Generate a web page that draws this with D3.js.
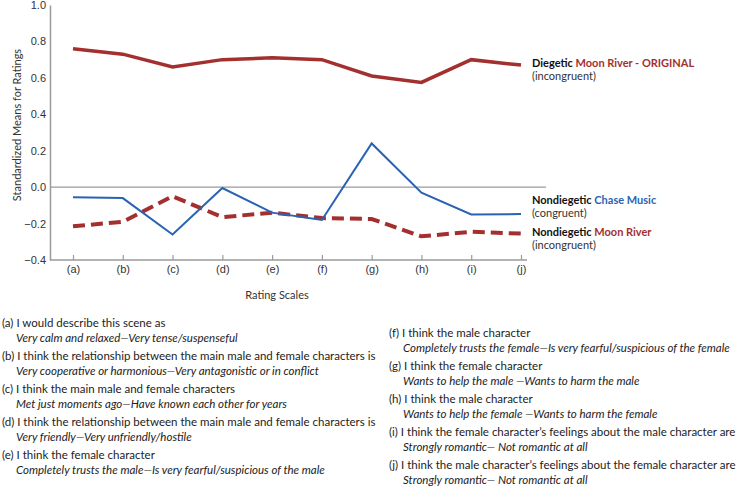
<!DOCTYPE html>
<html>
<head>
<meta charset="utf-8">
<script src="https://cdn.jsdelivr.net/npm/d3@7"></script>
<style>
  body { margin: 0; background: #fff; }
  svg { font-family: Lato, "Open Sans", sans-serif; }
  .axis text { fill: #333; font-size: 11px; }
</style>
</head>
<body>
<svg id="chart" width="744" height="500"></svg>
<script>
// rating scales (x categories)
var scales = ['(a)', '(b)', '(c)', '(d)', '(e)', '(f)', '(g)', '(h)', '(i)', '(j)']
var yTicks = [-0.4, -0.2, 0.0, 0.2, 0.4, 0.6, 0.8, 1.0]

// standardized means
var diegeticOriginal = [0.76, 0.73, 0.66, 0.70, 0.71, 0.70, 0.61, 0.575, 0.70, 0.67]
var nondiegeticChase = [-0.055, -0.06, -0.26, -0.005, -0.14, -0.18, 0.24, -0.03, -0.15, -0.148]
var nondiegeticMoon = [-0.215, -0.19, -0.05, -0.165, -0.14, -0.17, -0.175, -0.27, -0.245, -0.255]

// footnote texts for each scale
var questions = [
  'I would describe this scene as',
  'I think the relationship between the main male and female characters is',
  'I think the main male and female characters',
  'I think the relationship between the main male and female characters is',
  'I think the female character',
  'I think the male character',
  'I think the female character',
  'I think the male character',
  'I think the female character\u2019s feelings about the male character are',
  'I think the male character\u2019s feelings about the female character are'
]
var anchors = [
  'Very calm and relaxed\u2014Very tense/suspenseful',
  'Very cooperative or harmonious\u2014Very antagonistic or in conflict',
  'Met just moments ago\u2014Have known each other for years',
  'Very friendly\u2014Very unfriendly/hostile',
  'Completely trusts the male\u2014Is very fearful/suspicious of the male',
  'Completely trusts the female\u2014Is very fearful/suspicious of the female',
  'Wants to help the male \u2014Wants to harm the male',
  'Wants to help the female \u2014Wants to harm the female',
  'Strongly romantic\u2014 Not romantic at all',
  'Strongly romantic\u2014 Not romantic at all'
]

var red = '#a3302f'
var blue = '#2b63b3'
var grey = '#9a9a9a'

var svg = d3.select('#chart')

var axisLeftX = 50
var axisRightX = 527

var x = d3.scalePoint().domain(scales).range([73, 521])
var y = d3.scaleLinear().domain([-0.4, 1.0]).range([260, 5])

// zero reference line
svg.append('line')
  .attr('x1', axisLeftX).attr('x2', 546)
  .attr('y1', y(0)).attr('y2', y(0))
  .attr('stroke', grey).attr('stroke-width', 1.2)

// y axis
var yAxis = d3.axisLeft(y).tickValues(yTicks).tickSize(0).tickPadding(4)
  .tickFormat(d3.format('.1f'))
var gy = svg.append('g')
  .attr('class', 'axis y-axis')
  .attr('transform', 'translate(' + axisLeftX + ',0)')
  .call(yAxis)
gy.select('.domain').attr('stroke', grey).attr('stroke-width', 1.5)

// x axis (ticks pointing up)
var xAxis = d3.axisBottom(x).tickSizeInner(-5).tickSizeOuter(0).tickPadding(5)
var gx = svg.append('g')
  .attr('class', 'axis x-axis')
  .attr('transform', 'translate(0,' + y(-0.4) + ')')
  .call(xAxis)
gx.select('.domain').remove()
gx.selectAll('.tick line').attr('stroke', grey).attr('stroke-width', 1.2)
gx.append('line')
  .attr('x1', axisLeftX).attr('x2', axisRightX)
  .attr('stroke', grey).attr('stroke-width', 1.5)

// axis titles
svg.append('text')
  .attr('transform', 'translate(21,' + 125 + ') rotate(-90)')
  .attr('text-anchor', 'middle')
  .attr('fill', '#333')
  .style('font-size', '11px')
  .text('Standardized Means for Ratings')

svg.append('text')
  .attr('x', 277).attr('y', 299)
  .attr('text-anchor', 'middle')
  .attr('fill', '#333')
  .style('font-size', '11px')
  .text('Rating Scales')

// lines
var line = d3.line()
  .x(function(d, i) { return x(scales[i]) })
  .y(function(d) { return y(d) })

svg.append('path').datum(nondiegeticMoon)
  .attr('d', line).attr('fill', 'none')
  .attr('stroke', red).attr('stroke-width', 4)
  .attr('stroke-dasharray', '12,6')

svg.append('path').datum(nondiegeticChase)
  .attr('d', line).attr('fill', 'none')
  .attr('stroke', blue).attr('stroke-width', 2)

svg.append('path').datum(diegeticOriginal)
  .attr('d', line).attr('fill', 'none')
  .attr('stroke', red).attr('stroke-width', 3.5)

// labels beside the lines
function lineLabel(yPos, first, second, color, sub) {
  var t = svg.append('text')
    .attr('x', 532).attr('y', yPos)
    .style('font-size', '11px').style('font-weight', 'bold')
  t.append('tspan').attr('fill', '#111').text(first + ' ')
  t.append('tspan').attr('fill', color).text(second)
  svg.append('text')
    .attr('x', 532).attr('y', yPos + 13)
    .attr('fill', '#333')
    .style('font-size', '11px')
    .text(sub)
}
lineLabel(67, 'Diegetic', 'Moon River - ORIGINAL', red, '(incongruent)')
lineLabel(204, 'Nondiegetic', 'Chase Music', blue, '(congruent)')
lineLabel(236, 'Nondiegetic', 'Moon River', red, '(incongruent)')

// footnotes
var notes = svg.append('g').attr('class', 'notes')
scales.forEach(function(s, i) {
  var col = i < 5 ? 0 : 1
  var row = i % 5
  var x0 = col === 0 ? 2 : 389
  var y0 = (col === 0 ? 327 : 337) + row * 33
  notes.append('text')
    .attr('x', x0).attr('y', y0)
    .attr('fill', '#222')
    .style('font-size', '11.5px')
    .text(s + ' ' + questions[i])
  notes.append('text')
    .attr('x', x0 + 14).attr('y', y0 + 14.5)
    .attr('fill', '#222')
    .style('font-size', '11.5px').style('font-style', 'italic')
    .text(anchors[i])
})
</script>
</body>
</html>
